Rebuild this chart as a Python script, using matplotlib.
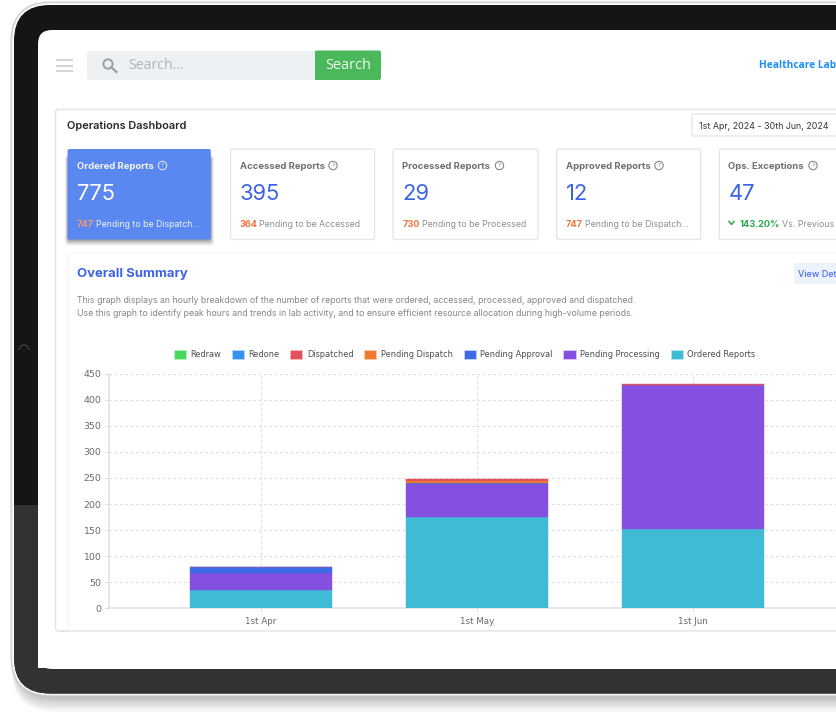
import matplotlib
matplotlib.use("Agg")
import matplotlib.pyplot as plt
import numpy as np
from matplotlib.patches import FancyBboxPatch, Rectangle, Circle, Arc

# ---- data ----
months = ["1st Apr", "1st May", "1st Jun"]
ordered_reports = [36, 176, 152]
pending_processing = [31, 62, 277]
pending_approval = [12, 2, 0]
pending_dispatch = [0, 5, 0]
dispatched = [1, 3, 1]
redone = [0, 0, 0]
redraw = [0, 0, 0]
y_ticks = [0, 50, 100, 150, 200, 250, 300, 350, 400, 450]

card_titles = ["Ordered Reports", "Accessed Reports", "Processed Reports", "Approved Reports", "Ops. Exceptions"]
card_values = ["775", "395", "29", "12", "47"]
card_counts = ["747", "364", "730", "747", "143.20%"]
card_notes = ["Pending to be Dispatch...", "Pending to be Accessed", "Pending to be Processed",
              "Pending to be Dispatch...", "Vs. Previous"]

W, H = 836, 715
FONT = "Inter"
fig = plt.figure(figsize=(W / 100, H / 100), dpi=100, facecolor="white")

# ---- page layer in pixel coordinates ----
bg = fig.add_axes([0, 0, 1, 1], zorder=0)
bg.set_xlim(0, W)
bg.set_ylim(H, 0)
bg.axis("off")


def px(s):
    return s * 0.72


def rrect(x0, y0, x1, y1, r, **kw):
    p = FancyBboxPatch((x0 + r, y0 + r), x1 - x0 - 2 * r, y1 - y0 - 2 * r,
                       boxstyle=f"round,pad={r},rounding_size={r}", **kw)
    bg.add_patch(p)
    return p


def label(x, y, s, size, color, weight="normal", ha="left", family=FONT):
    dy = 0.8 if family == FONT else 0
    return bg.text(x, y + dy, s, fontsize=px(size), color=color, fontweight=weight, ha=ha,
                   va="center", family=family)


# soft shadow under the tablet
for i, a in enumerate(np.linspace(0.05, 0.09, 8)):
    d = 18 - 2.2 * i
    rrect(14 - d * 0.12, 8, 1000, 694 + d, 42, fc="#666666", ec="none", alpha=a)

# tablet frame
rrect(11, 2, 1000, 696, 40, fc="#e8e8e8", ec="#cccccc", lw=0.8)
rrect(12.5, 3.5, 1000, 694.5, 38, fc="white", ec="none")
body = rrect(14, 5, 1000, 693.5, 36, fc="#151515", ec="none")
lower = Rectangle((0, 505), 1000, 200, fc="#323232", ec="none")
bg.add_patch(lower)
lower.set_clip_path(body)
bg.add_patch(Arc((24, 350), 10, 10, theta1=180, theta2=360, ec="#4a4a4a", lw=0.7))
rrect(38, 30, 1000, 669, 14, fc="white", ec="none")

# top bar
for yy in (60, 65.5, 71):
    bg.plot([56, 73], [yy, yy], color="#d2d4d6", lw=1.5, solid_capstyle="butt")
rrect(87, 51, 318, 80, 3, fc="#eef1f4", ec="none")
rrect(315, 50.5, 381, 80, 2, fc="#4cb85c", ec="none")
bg.add_patch(Rectangle((315, 50.5), 4, 29.5, fc="#4cb85c", ec="none"))
bg.add_patch(Circle((108, 64), 4.6, fc="none", ec="#9b9fa5", lw=1.4))
bg.plot([111.5, 116.5], [67.5, 72], color="#9b9fa5", lw=1.6)
label(128.5, 65.5, "Search...", 14, "#aeb3ba", family="Open Sans")
label(348, 65.5, "Search", 14.5, "#eef8ef", ha="center", family="Open Sans")
label(759, 66, "Healthcare Lab", 10.3, "#1e8fff", weight="bold", family="Open Sans")

# dashboard panel
rrect(55.5, 109.5, 1000, 631, 3, fc="white", ec="#e3e5e8", lw=1.1)
label(67, 125.5, "Operations Dashboard", 11, "#25282c", weight="semibold")
rrect(692, 114, 1000, 136, 2, fc="white", ec="#e3e5e8", lw=0.9)
label(699, 125.5, "1st Apr, 2024 - 30th Jun, 2024", 8.9, "#33363a")

# cards
card_x = [(67.5, 210.8), (230.5, 374.5), (393, 538), (556.7, 700.7), (719.3, 900)]
icon_x = [162.5, 333, 499.5, 659, 813]
for i, ((x0, x1), t, v, c, n, ix) in enumerate(zip(card_x, card_titles, card_values, card_counts, card_notes, icon_x)):
    first = i == 0
    if first:
        for k, a in zip(range(6, 0, -1), [0.05, 0.07, 0.08, 0.09, 0.1, 0.12]):
            rrect(x0 - k * 0.6 + 1, 156, x1 + k * 0.6 - 0.5, 239 + k + 0.5, 3, fc="#222222", ec="none", alpha=a)
    rrect(x0, 149, x1, 239.5, 2, fc="#5b87f1" if first else "white", ec="none" if first else "#e3e5e8", lw=0.9)
    tx = x0 + 9.2
    label(tx, 165.5, t, 9.5, "#f2f5fe" if first else "#6b7075", weight="bold")
    bg.add_patch(Circle((ix, 165.5), 4.2, fc="none", ec="#e6ecfd" if first else "#777b80", lw=0.7))
    label(ix, 165, "?", 6, "#e6ecfd" if first else "#777b80", ha="center")
    label(tx, 193.5, v, 22, "white" if first else "#3c63e6")
    if i == 4:
        bg.plot([tx + 0.5, tx + 3, tx + 5.5], [221.5, 224.5, 221.5], color="#27ae50", lw=1.1)
        label(tx + 11, 224, c, 9.2, "#2aa84f", weight="bold")
        label(tx + 53.5, 224, n, 8.8, "#8b8f94")
    else:
        label(tx, 224, c, 9.2, "#f59a70" if first else "#f0753c", weight="bold")
        label(tx + 19.5, 224, n, 8.75, "#eef2fd" if first else "#8b8f94")

# summary panel
rrect(68, 253, 1000, 640, 3, fc="white", ec="#f5f6f7", lw=0.9)
label(77, 273.5, "Overall Summary", 13.1, "#3c63e6", weight="bold")
rrect(794, 263, 1000, 284, 2, fc="#eef2fd", ec="none")
label(798.5, 273.5, "View Det", 9, "#4a70ea", weight="medium")
label(77, 300, "This graph displays an hourly breakdown of the number of reports that were ordered, accessed, processed, approved and dispatched.",
      8.76, "#82868b")
label(77, 313.2, "Use this graph to identify peak hours and trends in lab activity, and to ensure efficient resource allocation during high-volume periods.",
      8.76, "#82868b")
# bottom edge of the panel sits above the summary fill
bg.plot([60, 1000], [631, 631], color="#e3e5e8", lw=1.1)
bg.add_patch(Rectangle((38, 631.6), 1000, 36, fc="white", ec="none"))
bg.set_xlim(0, W)
bg.set_ylim(H, 0)

# ---- chart ----
x_left, x_right, y_top, y_bot = 109, 836, 373.7, 608.3
ax = fig.add_axes([x_left / W, 1 - y_bot / H, (x_right - x_left) / W, (y_bot - y_top) / H], zorder=2)
ax.patch.set_alpha(0)
ax.set_xlim((x_left - 261) / 216, (x_right - 261) / 216)
ax.set_ylim(0, 450)

series = [
    ("Ordered Reports", ordered_reports, "#3fbbd6", "#b5e6f0"),
    ("Pending Processing", pending_processing, "#8350e0", "#d9c8f7"),
    ("Pending Approval", pending_approval, "#3d6be8", "#c0cff7"),
    ("Pending Dispatch", pending_dispatch, "#f27a2c", "#fbcdae"),
    ("Dispatched", dispatched, "#e2525a", "#f6b9bc"),
    ("Redone", redone, "#3292f5", "#b5d8fb"),
    ("Redraw", redraw, "#47d95e", "#b9f0c2"),
]
positions = np.arange(len(months))
bottom = np.zeros(len(months))
handles = {}
for name, vals, col, edge in series:
    vals = np.array(vals, dtype=float)
    drawn = vals > 0
    ax.bar(positions[drawn], vals[drawn], width=0.653, bottom=bottom[drawn], color=col,
           edgecolor=col, linewidth=0.3, zorder=3)
    handles[name] = Rectangle((0, 0), 1, 1, fc=col, ec=edge, lw=0.7)
    bottom += vals

ax.set_xticks(positions, months)
ax.set_yticks(y_ticks)
ax.grid(True, color="#dcdee0", lw=0.8, dashes=(2.4, 2.4), zorder=0)
ax.set_axisbelow(True)
ax.tick_params(axis="both", length=3.2, width=0.8, color="#dcdee0", labelcolor="#666a6e", labelsize=px(9.4), pad=2.5)
for lab in ax.get_xticklabels() + ax.get_yticklabels():
    lab.set_family("DejaVu Sans")
ax.tick_params(axis="x", pad=3, labelsize=px(8.8))
for s in ("top", "right"):
    ax.spines[s].set_visible(False)
for s in ("left", "bottom"):
    ax.spines[s].set_color("#dedfe1")
    ax.spines[s].set_linewidth(1.1)

names = [s[0] for s in series][::-1]
leg = fig.legend([handles[n] for n in names], names, loc="center", bbox_to_anchor=(464.5 / W, 1 - 354.5 / H),
                 ncol=7, frameon=False, prop={"family": "DejaVu Sans", "size": px(8.3)},
                 labelcolor="#4a4d50", handlelength=1.45, handleheight=1.45, handletextpad=0.55,
                 columnspacing=1.3, borderpad=0, borderaxespad=0)
leg.set_zorder(3)

fig.savefig("out.png", dpi=100)
